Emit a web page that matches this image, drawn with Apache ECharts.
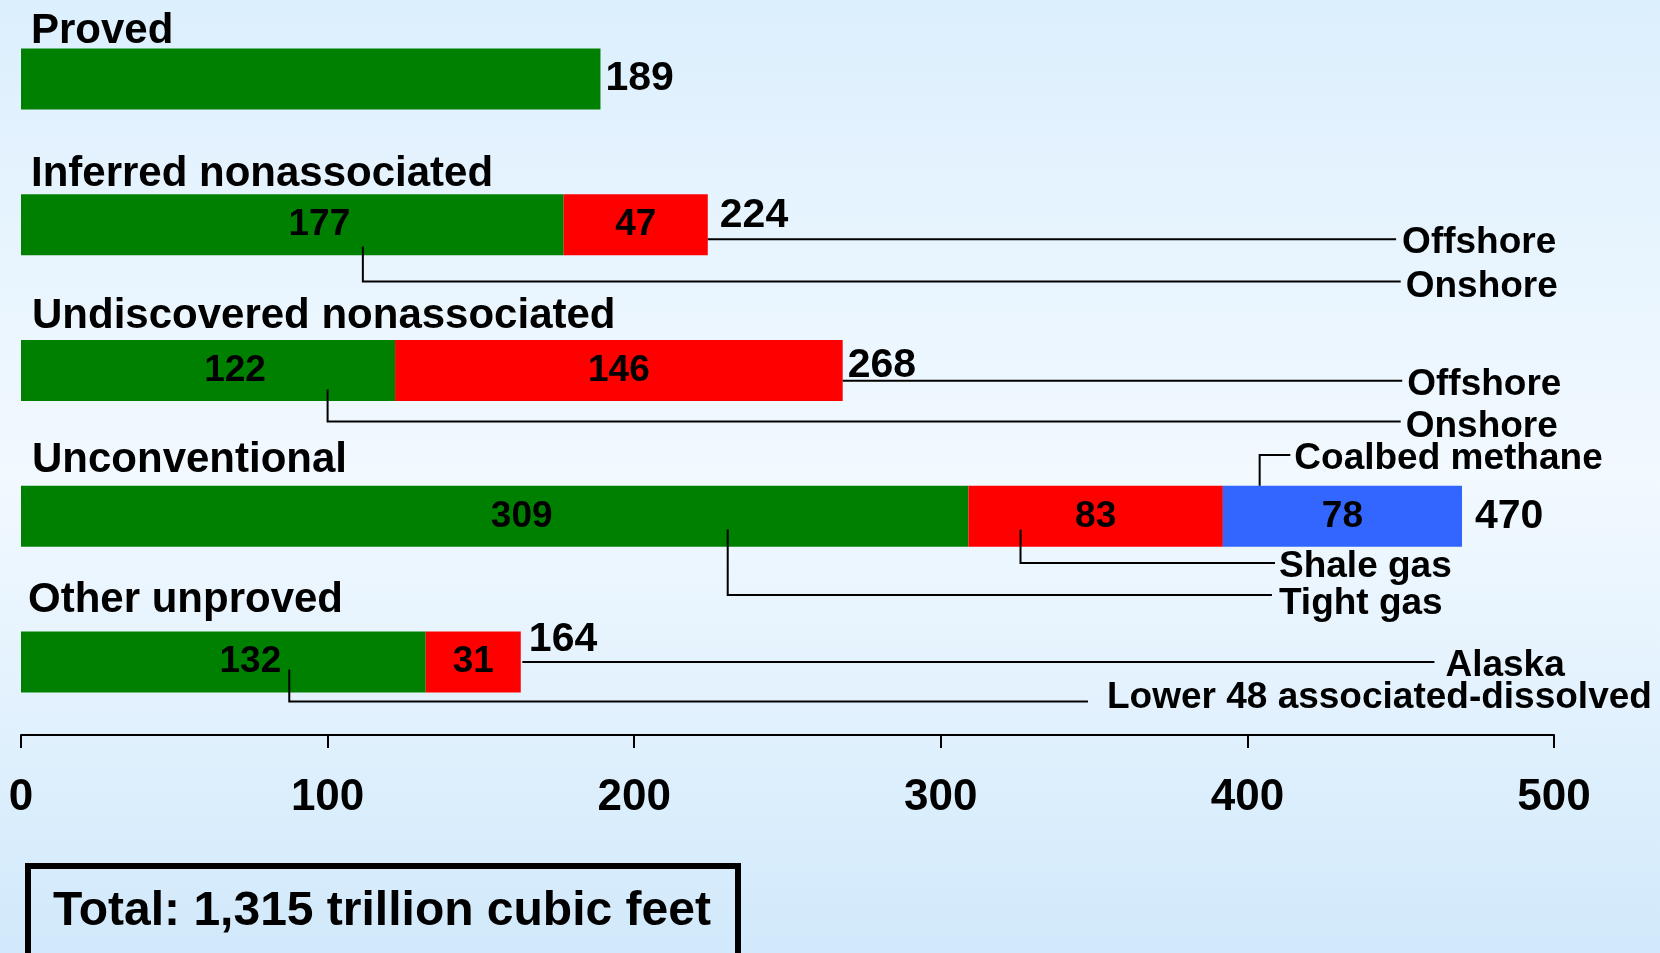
<!DOCTYPE html>
<html><head><meta charset="utf-8">
<script src="https://cdn.jsdelivr.net/npm/echarts@6/dist/echarts.min.js"></script>
<style>html,body{margin:0;padding:0;}#c{width:1660px;height:953px;}</style>
</head><body><div id="c"></div>
<script>
// ---- data ----
const categories = ['Proved', 'Inferred nonassociated', 'Undiscovered nonassociated', 'Unconventional', 'Other unproved'];
const greenValues = [189, 177, 122, 309, 132];
const redValues = ['-', 47, 146, 83, 31];
const blueValues = ['-', '-', '-', 78, '-'];
const totalValues = [189, 224, 268, 470, 164];
const xMin = 0, xMax = 500, xStep = 100;
const totalText = 'Total: 1,315 trillion cubic feet';
// leader-line annotations: [value, category position] points
const leaderNames = ['Offshore', 'Onshore', 'Offshore', 'Onshore', 'Coalbed methane', 'Shale gas', 'Tight gas', 'Alaska', 'Lower 48 associated-dissolved'];
const leaderPaths = [
  [[224, 1.10], [448.5, 1.10]],
  [[111.5, 1.15], [111.5, 1.39], [450, 1.39]],
  [[268, 2.07], [450.5, 2.07]],
  [[100, 2.13], [100, 2.35], [450, 2.35]],
  [[404, 2.79], [404, 2.58], [414, 2.58]],
  [[326, 3.09], [326, 3.32], [409, 3.32]],
  [[230.5, 3.09], [230.5, 3.54], [408, 3.54]],
  [[163.5, 4.0], [461, 4.0]],
  [[87.5, 4.05], [87.5, 4.27], [348, 4.27]]
];

// ---- styling / layout ----
const FONT = '"Liberation Sans", Arial, sans-serif';
const leaderGap = [6, 5, 5, 5, 4, 4, 7, 11, 19];
const leaderDy = [4, 5, 4, 5, 4, 4, 9, 4, -4];
const titleLift = [47, 50, 54, 56, 62];
const titleGap = [10, 10, 11, 11, 7];
const totalGap = [5, 12, 5, 13, 5];
const totalDy = [0, -9, -5, 0, -22];

const chart = echarts.init(document.getElementById('c'));
const labelBase = {show: true, color: '#000', fontFamily: FONT, fontWeight: 'bold', fontSize: 37};

chart.setOption({
  animation: false,
  backgroundColor: {
    type: 'linear', x: 0, y: 0, x2: 0, y2: 1,
    colorStops: [
      {offset: 0, color: '#DCEFFD'},
      {offset: 0.5, color: '#F2F9FF'},
      {offset: 1, color: '#D1E9FB'}
    ]
  },
  title: {
    text: totalText,
    left: 28, top: 866,
    padding: [18, 27, 18, 25],
    borderColor: '#000', borderWidth: 6,
    textStyle: {fontFamily: FONT, fontWeight: 'bold', fontSize: 48, lineHeight: 56, color: '#000'}
  },
  grid: {left: 21, right: 106, top: 6, bottom: 218},
  xAxis: {
    type: 'value', min: xMin, max: xMax, interval: xStep,
    axisLine: {show: true, onZero: false, lineStyle: {color: '#000', width: 2}},
    axisTick: {show: true, length: 13, lineStyle: {color: '#000', width: 2}},
    splitLine: {show: false},
    axisLabel: {color: '#000', fontFamily: FONT, fontWeight: 'bold', fontSize: 44, lineHeight: 44, margin: 41}
  },
  yAxis: [{
    type: 'category', inverse: true, position: 'left', data: categories,
    axisLine: {show: false}, axisTick: {show: false}, splitLine: {show: false},
    axisLabel: {show: false}
  }, {
    type: 'value', min: -0.5, max: 4.5, inverse: true, show: false, position: 'right'
  }],
  series: [
    {
      type: 'bar', stack: 'a', barWidth: 61, data: greenValues,
      itemStyle: {color: '#008000'},
      label: Object.assign({}, labelBase, {position: 'inside', offset: [27, 0],
        formatter: p => p.dataIndex === 0 ? '' : String(p.value)})
    },
    {
      type: 'bar', stack: 'a', barWidth: 61, data: redValues,
      itemStyle: {color: '#FF0000'},
      label: Object.assign({}, labelBase, {position: 'inside'})
    },
    {
      type: 'bar', stack: 'a', barWidth: 61, data: blueValues,
      itemStyle: {color: '#3366FF'},
      label: Object.assign({}, labelBase, {position: 'inside'})
    },
    {
      // category titles above each bar
      type: 'custom', z: 6, silent: true, clip: false,
      data: categories.map((c, i) => [xMin, i]),
      renderItem: function (params, api) {
        const i = params.dataIndex;
        const p = api.coord([xMin, i]);
        return {type: 'text', x: p[0] + titleGap[i], y: p[1] - titleLift[i],
          style: {text: categories[i], font: 'bold 42px ' + FONT, fill: '#000', align: 'left', verticalAlign: 'middle'}};
      }
    },
    {
      // totals at the end of each bar
      type: 'custom', z: 6, silent: true, clip: false,
      data: totalValues.map((v, i) => [v, i]),
      renderItem: function (params, api) {
        const i = params.dataIndex;
        const p = api.coord([totalValues[i], i]);
        return {type: 'text', x: p[0] + totalGap[i], y: p[1] + totalDy[i],
          style: {text: String(totalValues[i]), font: 'bold 41px ' + FONT, fill: '#000', align: 'left', verticalAlign: 'middle'}};
      }
    },
    {
      type: 'custom', xAxisIndex: 0, yAxisIndex: 1, z: 5, silent: true, clip: false,
      data: leaderPaths.map((p, i) => [p[p.length - 1][0], p[p.length - 1][1]]),
      renderItem: function (params, api) {
        const i = params.dataIndex;
        const pts = leaderPaths[i].map(p => api.coord(p));
        const end = pts[pts.length - 1];
        return {
          type: 'group',
          children: [
            {type: 'polyline', shape: {points: pts}, style: {stroke: '#000', lineWidth: 2, fill: null}},
            {type: 'text', x: end[0] + leaderGap[i], y: end[1] + leaderDy[i],
              style: {text: leaderNames[i], font: 'bold 37px ' + FONT, fill: '#000', align: 'left', verticalAlign: 'middle'}}
          ]
        };
      }
    }
  ]
});
</script>
</body></html>
